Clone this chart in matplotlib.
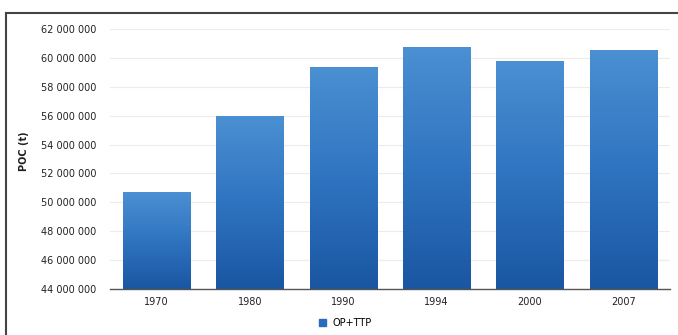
import numpy as np
import matplotlib.pyplot as plt
from matplotlib.lines import Line2D
from matplotlib.patches import Rectangle
from matplotlib.colors import LinearSegmentedColormap
from matplotlib.ticker import FuncFormatter

years = ["1970", "1980", "1990", "1994", "2000", "2007"]
poc = [50_700_000, 56_000_000, 59_400_000, 60_750_000, 59_800_000, 60_550_000]
series_name = "OP+TTP"

W, H = 678, 335
fig = plt.figure(figsize=(W / 100, H / 100), dpi=100)
ax = fig.add_axes([110 / W, 1 - 289 / H, 560 / W, 260 / H])

x = np.arange(len(years))
bars = ax.bar(x, poc, width=0.72, color="#3578c4", zorder=2)

# vertical gradient inside every bar
grad = LinearSegmentedColormap.from_list("bar", ["#1a56a2", "#2f74c0", "#4b90d2"])
ramp = np.linspace(0, 1, 256).reshape(-1, 1)
for b in bars:
    x0, y0 = b.get_x(), 44_000_000
    x1, y1 = x0 + b.get_width(), b.get_height()
    im = ax.imshow(ramp, cmap=grad, origin="lower", aspect="auto",
                   extent=(x0, x1, y0, y1), zorder=2.5)
    clip = Rectangle((x0, y0), x1 - x0, y1 - y0, transform=ax.transData)
    im.set_clip_path(clip)

ax.set_xlim(-0.5, len(years) - 0.5)
ax.set_ylim(44_000_000, 62_000_000)
ax.set_yticks(np.arange(44_000_000, 62_000_001, 2_000_000))
ax.yaxis.set_major_formatter(FuncFormatter(lambda v, _: f"{int(v):,}".replace(",", " ")))
ax.set_xticks(x)
ax.set_xticklabels(years)
ax.tick_params(axis="both", length=0, labelsize=7, colors="#222222")
ax.tick_params(axis="x", pad=6)
ax.tick_params(axis="y", pad=10)
ax.grid(axis="y", color="#f0ece4", linewidth=0.8, zorder=0)

for side in ["top", "right", "left"]:
    ax.spines[side].set_visible(False)
ax.spines["bottom"].set_color("#555555")
ax.spines["bottom"].set_linewidth(1.0)
ax.spines["bottom"].set_zorder(3)

ax.set_ylabel("POC (t)", fontsize=7, fontweight="bold", color="#222222")
ax.yaxis.set_label_coords(-0.145, 0.53)

# legend below the axis
fig.legend(handles=[Rectangle((0, 0), 1, 1, color="#2a6cbb")], labels=[series_name],
           loc="center", bbox_to_anchor=(345 / W, 1 - 323 / H), frameon=False,
           fontsize=7, handlelength=0.8, handleheight=0.8, handletextpad=0.6)

# outer frame (left and top edges)
fig.add_artist(Line2D([6 / W, 6 / W], [0, 1 - 13 / H], color="#444444", linewidth=1.5))
fig.add_artist(Line2D([6 / W, 1], [1 - 13 / H, 1 - 13 / H], color="#444444", linewidth=1.5))

fig.savefig("out.png", dpi=100)
